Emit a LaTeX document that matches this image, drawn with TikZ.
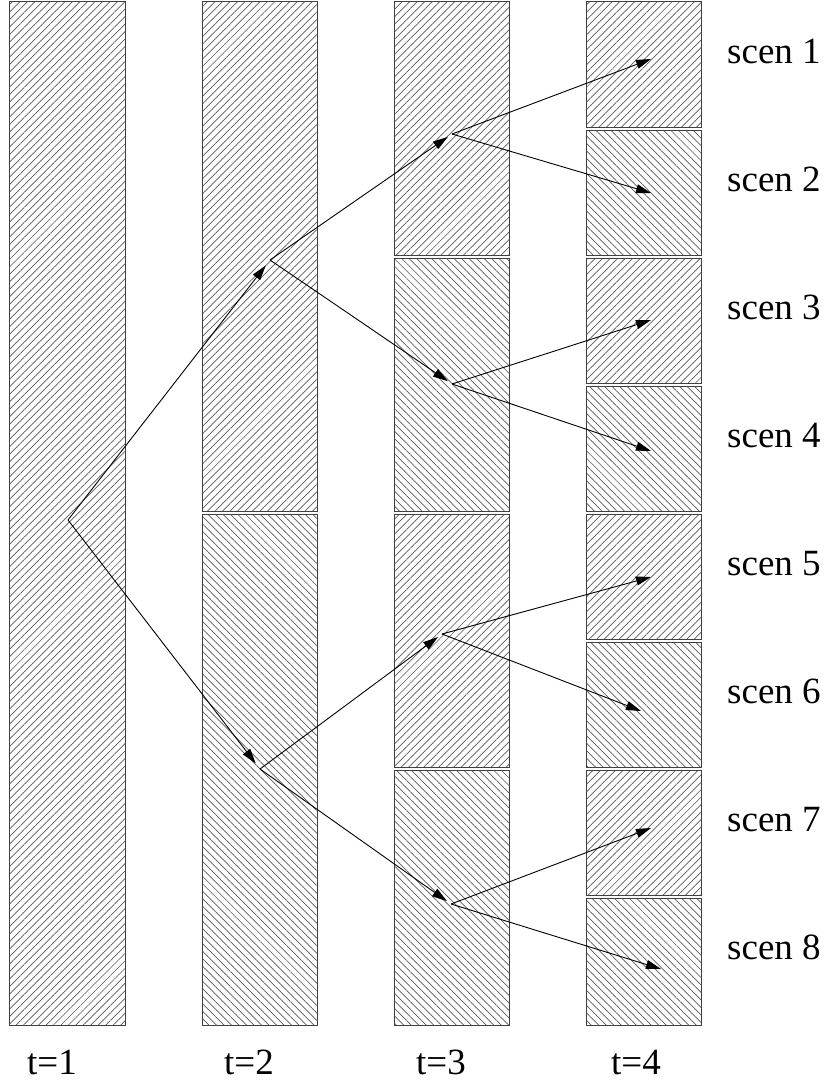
\documentclass[tikz,border=0pt]{standalone}
\usepackage{fontspec}
\setmainfont{Liberation Serif}
\usetikzlibrary{patterns.meta,arrows.meta}
\begin{document}
\begin{tikzpicture}[x=1bp,y=-1bp,
  ne/.style={draw=black!75, line width=0.9bp, pattern={Lines[angle=45,distance=5.3bp,line width=0.7bp]}, pattern color=black!65},
  nw/.style={draw=black!75, line width=0.9bp, pattern={Lines[angle=-45,distance=5.3bp,line width=0.7bp]}, pattern color=black!65},
  arr/.style={-{Triangle[length=15bp,width=9bp]}, line width=0.9bp},
  lbl/.style={inner sep=0, anchor=base west, font=\fontsize{37bp}{40bp}\selectfont}]
\useasboundingbox (0,0) rectangle (829,1086);
\newcommand\stagebox[4]{\path[#4] (#1,{128*#2+1.5+1.2*min(#2,1)}) rectangle ({#1+115.5},{128*#3+1-1.2*(#3<8)});}
% column 1
\stagebox{9.5}{0}{8}{ne}
% column 2
\stagebox{202}{0}{4}{ne}
\stagebox{202}{4}{8}{nw}
% column 3
\stagebox{394}{0}{2}{ne}
\stagebox{394}{2}{4}{nw}
\stagebox{394}{4}{6}{ne}
\stagebox{394}{6}{8}{nw}
% column 4
\stagebox{586}{0}{1}{ne}
\stagebox{586}{1}{2}{nw}
\stagebox{586}{2}{3}{ne}
\stagebox{586}{3}{4}{nw}
\stagebox{586}{4}{5}{ne}
\stagebox{586}{5}{6}{nw}
\stagebox{586}{6}{7}{ne}
\stagebox{586}{7}{8}{nw}
% branch points
\coordinate (A) at (68,520);
\coordinate (B1) at (270,260);
\coordinate (B2) at (260,769);
\coordinate (C1) at (452,134);
\coordinate (C2) at (452,384);
\coordinate (C3) at (442,634);
\coordinate (C4) at (451,904);
\coordinate (D1) at (651,59);
\coordinate (D2) at (651,193);
\coordinate (D3) at (651,320);
\coordinate (D4) at (651,451);
\coordinate (D5) at (651,577);
\coordinate (D6) at (641,711);
\coordinate (D7) at (651,828);
\coordinate (D8) at (661,969);
% arrows
\draw[arr, shorten >=7bp] (A) -- (B1);
\draw[arr, shorten >=7bp] (A) -- (B2);
\draw[arr, shorten >=5bp] (B1) -- (C1);
\draw[arr, shorten >=5bp] (B1) -- (C2);
\draw[arr, shorten >=5bp] (B2) -- (C3);
\draw[arr, shorten >=5bp] (B2) -- (C4);
\draw[arr] (C1) -- (D1);
\draw[arr] (C1) -- (D2);
\draw[arr] (C2) -- (D3);
\draw[arr] (C2) -- (D4);
\draw[arr] (C3) -- (D5);
\draw[arr] (C3) -- (D6);
\draw[arr] (C4) -- (D7);
\draw[arr] (C4) -- (D8);
% labels
\node[lbl] (s1) at (727,63) {scen 1};
\node[lbl] (s2) at (727,191) {scen 2};
\node[lbl] (s3) at (727,319) {scen 3};
\node[lbl] (s4) at (727,447) {scen 4};
\node[lbl] (s5) at (727,575) {scen 5};
\node[lbl] (s6) at (727,703) {scen 6};
\node[lbl] (s7) at (727,831) {scen 7};
\node[lbl] (s8) at (727,959) {scen 8};
\node[lbl] (t1) at (27,1074) {t=1};
\node[lbl] (t2) at (224,1074) {t=2};
\node[lbl] (t3) at (416,1074) {t=3};
\node[lbl] (t4) at (611,1074) {t=4};
\end{tikzpicture}
\end{document}
